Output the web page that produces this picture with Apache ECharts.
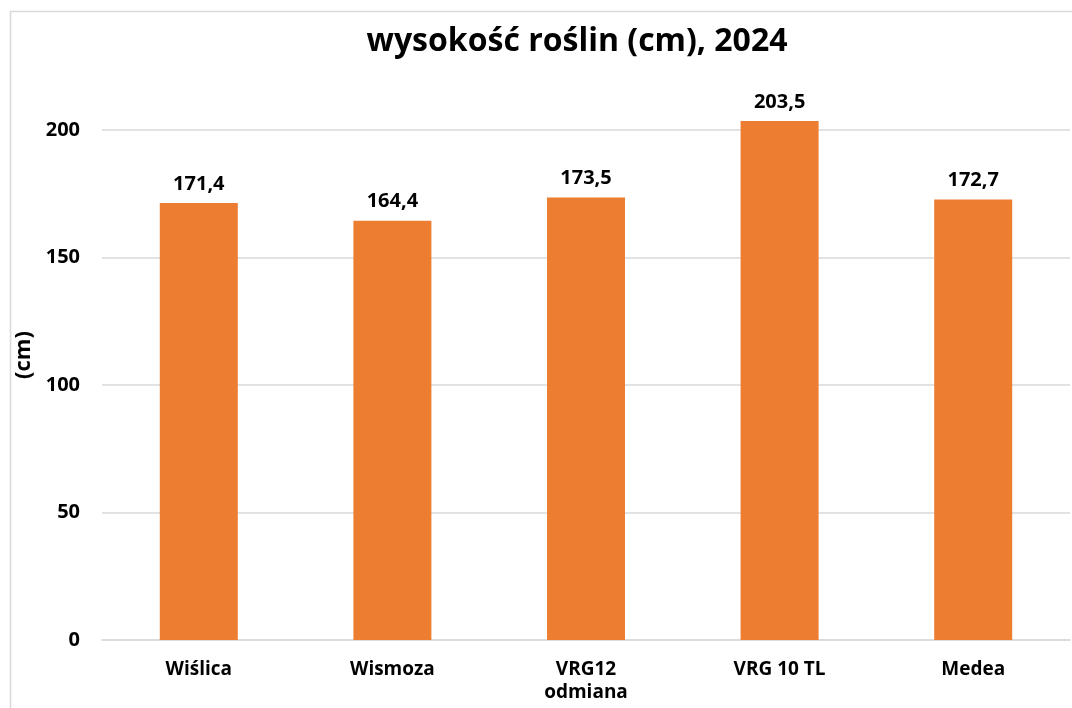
<!DOCTYPE html>
<html>
<head>
<meta charset="utf-8">
<script src="https://cdn.jsdelivr.net/npm/echarts@6/dist/echarts.min.js"></script>
<style>
  html, body { margin: 0; padding: 0; background: #fff; }
  #chart { width: 1072px; height: 708px; }
</style>
</head>
<body>
<div id="chart"></div>
<script>
const categories = ['Wiślica', 'Wismoza', 'VRG12\nodmiana', 'VRG 10 TL', 'Medea']
const heights = [171.4, 164.4, 173.5, 203.5, 172.7]
const yTicks = [0, 50, 100, 150, 200]

const font = '"Open Sans", Lato, sans-serif'
const chart = echarts.init(document.getElementById('chart'))

chart.setOption({
  backgroundColor: '#fff',
  animation: false,
  graphic: [{
    type: 'rect',
    shape: { x: 10.5, y: 11.5, width: 1100, height: 760 },
    style: { fill: 'none', stroke: '#d9d9d9', lineWidth: 1.5 },
    silent: true
  }],
  title: {
    text: 'wysokość roślin (cm), 2024',
    left: 572,
    top: 21,
    textAlign: 'center',
    textStyle: { fontFamily: font, fontSize: 32, fontWeight: 'bold', color: '#000' }
  },
  grid: { left: 102, right: 2, top: 130, bottom: 68 },
  xAxis: {
    type: 'category',
    data: categories,
    axisLine: { lineStyle: { color: '#d9d9d9', width: 1.5 } },
    axisTick: { show: false },
    axisLabel: {
      color: '#000', fontFamily: font, fontSize: 19, fontWeight: 'bold',
      margin: 18, lineHeight: 23, interval: 0
    }
  },
  yAxis: {
    type: 'value',
    min: yTicks[0],
    max: yTicks[yTicks.length - 1],
    interval: 50,
    name: '(cm)',
    nameLocation: 'middle',
    nameGap: 50,
    nameRotate: 90,
    nameTextStyle: {
      color: '#000', fontFamily: font, fontSize: 22, fontWeight: 'bold',
      padding: [0, 0, 0, 60]
    },
    axisLine: { show: false },
    axisTick: { show: false },
    axisLabel: { color: '#000', fontFamily: font, fontSize: 20, fontWeight: 'bold', margin: 22 },
    splitLine: { lineStyle: { color: '#d9d9d9', width: 1.5 } }
  },
  series: [{
    type: 'bar',
    data: heights,
    barWidth: 78,
    clip: false,
    itemStyle: { color: '#ED7D31' },
    label: {
      show: true,
      position: 'top',
      distance: 9,
      color: '#000',
      fontFamily: font,
      fontSize: 20,
      fontWeight: 'bold',
      formatter: p => String(p.value).replace('.', ',')
    }
  }]
})
</script>
</body>
</html>
